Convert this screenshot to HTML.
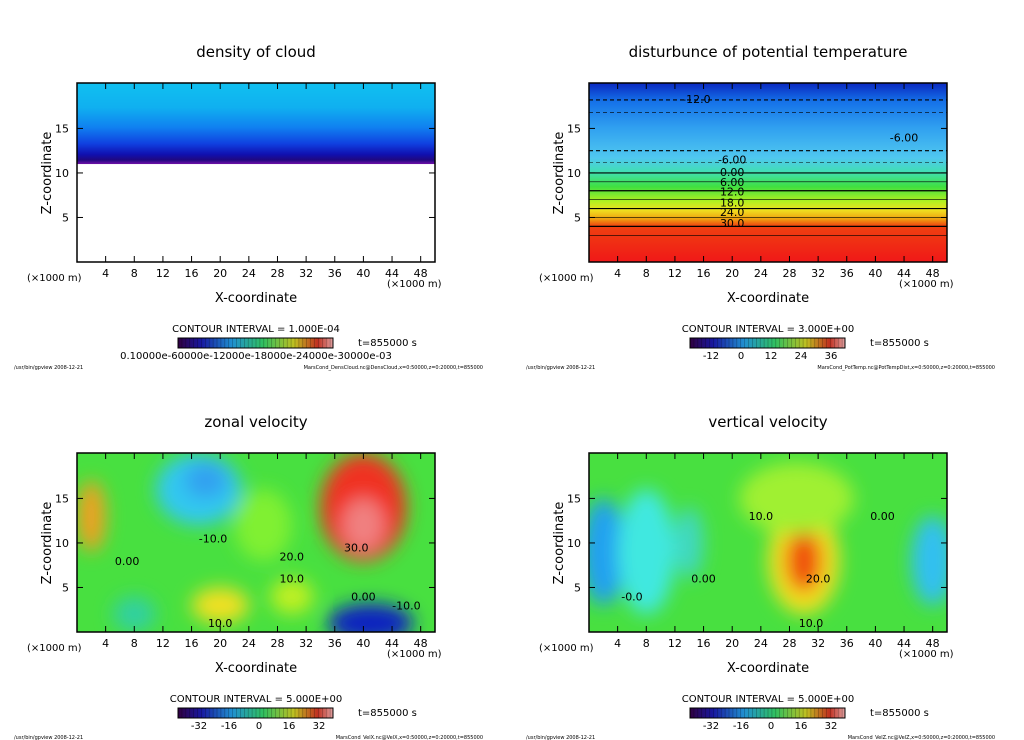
<!DOCTYPE html>
<html><head><meta charset="utf-8"><style>
html,body{margin:0;padding:0;background:#fff;width:1024px;height:740px;overflow:hidden}
svg{display:block}
text{font-family:"DejaVu Sans","Liberation Sans",sans-serif;fill:#000}
</style></head><body>
<svg id="fig" width="1024" height="740" viewBox="0 0 1024 740">
<defs>
<filter id="blur" x="-50%" y="-50%" width="200%" height="200%"><feGaussianBlur stdDeviation="9"/></filter>
<linearGradient id="gCloud" x1="0" y1="0" x2="0" y2="1">
<stop offset="0" stop-color="#10c0f0"/><stop offset="0.3" stop-color="#10b0f0"/><stop offset="0.55" stop-color="#1080f0"/><stop offset="0.75" stop-color="#1040e0"/><stop offset="0.88" stop-color="#1010b0"/><stop offset="0.95" stop-color="#200880"/><stop offset="1" stop-color="#7010a8"/></linearGradient>
<linearGradient id="gTemp" x1="0" y1="0" x2="0" y2="1">
<stop offset="0" stop-color="#0a28c0"/><stop offset="0.1" stop-color="#1470e8"/><stop offset="0.25" stop-color="#30a0f0"/><stop offset="0.42" stop-color="#50c8f0"/><stop offset="0.5" stop-color="#40e0b0"/><stop offset="0.58" stop-color="#40e040"/><stop offset="0.66" stop-color="#b0f020"/><stop offset="0.71" stop-color="#f0e020"/><stop offset="0.76" stop-color="#f0a010"/><stop offset="0.8" stop-color="#f04010"/><stop offset="1" stop-color="#f01818"/></linearGradient>
<linearGradient id="gBar" x1="0" y1="0" x2="1" y2="0">
<stop offset="0" stop-color="#300040"/><stop offset="0.15" stop-color="#1818a0"/><stop offset="0.35" stop-color="#2090d0"/><stop offset="0.55" stop-color="#30c060"/><stop offset="0.75" stop-color="#c0c020"/><stop offset="0.9" stop-color="#c03020"/><stop offset="1" stop-color="#e0a0a0"/></linearGradient>
</defs>
<g id="root"></g>
</svg>
<script>
const NS="http://www.w3.org/2000/svg";
const xTicks=[4,8,12,16,20,24,28,32,36,40,44,48];
const zTicks=[5,10,15];
const titles=["density of cloud","disturbunce of potential temperature","zonal velocity","vertical velocity"];
const intervals=["CONTOUR INTERVAL = 1.000E-04","CONTOUR INTERVAL = 3.000E+00","CONTOUR INTERVAL = 5.000E+00","CONTOUR INTERVAL = 5.000E+00"];
const barLabels=[["0.10000e-60000e-12000e-18000e-24000e-30000e-03"],["-12","0","12","24","36"],["-32","-16","0","16","32"],["-32","-16","0","16","32"]];
const footers=["MarsCond_DensCloud.nc@DensCloud,x=0:50000,z=0:20000,t=855000","MarsCond_PotTemp.nc@PotTempDist,x=0:50000,z=0:20000,t=855000","MarsCond_VelX.nc@VelX,x=0:50000,z=0:20000,t=855000","MarsCond_VelZ.nc@VelZ,x=0:50000,z=0:20000,t=855000"];
// blobs: [x, z, rx, rz, color]
const blobsZonal=[[17,16,6,4,"#30c8f0"],[18,17,3,2,"#30a0f0"],[40,14,6,6,"#f03020"],[40,12,3,3,"#f08080"],[41,1,6,2.2,"#1020c0"],[2,13,2,4,"#f0a020"],[20,3,4,2,"#f0e020"],[30,4,3,2,"#c0f020"],[8,2,3,2,"#30d0a0"],[26,12,4,4,"#80f030"]];
const blobsVert=[[2,9,3,6,"#20a0f0"],[8,9,4,7,"#40e8e0"],[14,10,2,4,"#40d8c0"],[48,8,3,5,"#30c0f0"],[30,8,5,6,"#f0e020"],[30,8,2.5,3.5,"#f05010"],[29,15,8,4,"#a0f030"]];
const tempContours=[18.2,16.8,12.5,11.2,10,9,8,7,6,5,4,3];
const panels=[[77,83],[589,83],[77,453],[589,453]];
const W=358,H=179;
const root=document.getElementById('root');
function mk(tag,attrs,parent,txt){const e=document.createElementNS(NS,tag);for(const k in attrs)e.setAttribute(k,attrs[k]);if(txt!=null)e.textContent=txt;(parent||root).appendChild(e);return e;}
panels.forEach((p,i)=>{
 const ox=p[0],oy=p[1];
 const sx=v=>ox+v/50*W, sz=v=>oy+H-v/20*H*0.995;
 const g=mk('g',{});
 
 
 const clipId='c'+i;
 const cp=mk('clipPath',{id:clipId},g);mk('rect',{x:ox,y:oy,width:W,height:H},cp);
 const plot=mk('g',{'clip-path':'url(#'+clipId+')'},g);
 
 
 if(i===0){
  mk('rect',{x:ox,y:oy,width:W,height:sz(11)-oy,fill:'url(#gCloud)'},plot);
 } else if(i===1){
  mk('rect',{x:ox,y:oy,width:W,height:H,fill:'url(#gTemp)'},plot);
  tempContours.forEach((z,k)=>{mk('line',{x1:ox,x2:ox+W,y1:sz(z),y2:sz(z),stroke:'#000','stroke-width':k%2?0.6:1.2,'stroke-dasharray':z>11?'4 3':'none'},plot);});
  [["-12.0",15,18.3],["-6.00",20,11.5],["-6.00",44,14],["0.00",20,10.1],["6.00",20,9],["12.0",20,7.9],["18.0",20,6.7],["24.0",20,5.6],["30.0",20,4.4]].forEach(l=>{mk('text',{x:sx(l[1]),y:sz(l[2])+4,'font-size':11,'text-anchor':'middle'},plot,l[0]);});
 } else {
  mk('rect',{x:ox,y:oy,width:W,height:H,fill:'#48e040'},plot);
  const bl=mk('g',{filter:'url(#blur)'},plot);
  (i===2?blobsZonal:blobsVert).forEach(b=>{mk('ellipse',{cx:sx(b[0]),cy:sz(b[1]),rx:b[2]/50*W,ry:b[3]/20*H,fill:b[4]},bl);});
  const labs=i===2?[["-10.0",19,10.5],["0.00",7,8],["20.0",30,8.5],["30.0",39,9.5],["10.0",30,6],["0.00",40,4],["-10.0",46,3],["10.0",20,1]]:[["10.0",24,13],["0.00",16,6],["20.0",32,6],["10.0",31,1],["0.00",41,13],["-0.0",6,4]];
  labs.forEach(l=>{mk('text',{x:sx(l[1]),y:sz(l[2])+4,'font-size':11,'text-anchor':'middle'},plot,l[0]);});
 }
 mk('rect',{x:ox,y:oy,width:W,height:H,fill:'none',stroke:'#000','stroke-width':1.5},g);
 xTicks.forEach(t=>{mk('line',{x1:sx(t),x2:sx(t),y1:oy+H,y2:oy+H-6,stroke:'#000'},g);mk('line',{x1:sx(t),x2:sx(t),y1:oy,y2:oy+6,stroke:'#000'},g);
  const tl=mk('text',{x:sx(t),y:oy+H+15,'font-size':11,'text-anchor':'middle'},g,String(t));});
 zTicks.forEach(t=>{mk('line',{x1:ox,x2:ox+6,y1:sz(t),y2:sz(t),stroke:'#000'},g);mk('line',{x1:ox+W,x2:ox+W-6,y1:sz(t),y2:sz(t),stroke:'#000'},g);
  const tl=mk('text',{x:ox-8,y:sz(t)+4,'font-size':11,'text-anchor':'end'},g,String(t));});
 const tt=mk('text',{x:ox+179,y:oy-26,'font-size':15,'text-anchor':'middle'},g,titles[i]);
 
 
 const yl=mk('text',{x:0,y:0,'font-size':13,'text-anchor':'middle',transform:`translate(${ox-26},${oy+90}) rotate(-90)`},g,'Z-coordinate');
 
 
 mk('text',{x:ox-50,y:oy+H+19,'font-size':10},g,'(×1000 m)');
 mk('text',{x:ox+W-48,y:oy+H+25,'font-size':10},g,'(×1000 m)');
 const xl=mk('text',{x:ox+179,y:oy+H+40,'font-size':13,'text-anchor':'middle'},g,'X-coordinate');
 
 
 const ci=mk('text',{x:ox+179,y:oy+H+70,'font-size':10,'text-anchor':'middle'},g,intervals[i]);
 
 
 const cb=mk('rect',{x:ox+101,y:oy+H+76,width:155,height:10,fill:'url(#gBar)',stroke:'#000'},g);
 
 
 for(let k=0;k<40;k++)mk('line',{x1:ox+101+k*3.9,x2:ox+101+k*3.9,y1:oy+H+76,y2:oy+H+86,stroke:'rgba(0,0,0,0.35)','stroke-width':0.6},g);
 const labs=barLabels[i];
 if(labs.length===1){mk('text',{x:ox+179,y:oy+H+97,'font-size':10,'text-anchor':'middle'},g,labs[0]);}
 else labs.forEach((l,k)=>{mk('text',{x:ox+122+k*30,y:oy+H+97,'font-size':10,'text-anchor':'middle'},g,l);});
 mk('text',{x:ox+281,y:oy+H+84,'font-size':10,fill:'#555'},g,'t=855000 s');
 mk('text',{x:ox-63,y:oy+H+107,'font-size':5},g,'/usr/bin/gpview   2008-12-21');
 mk('text',{x:ox+406,y:oy+H+107,'font-size':5,'text-anchor':'end'},g,footers[i]);
});
</script>
</body></html>
